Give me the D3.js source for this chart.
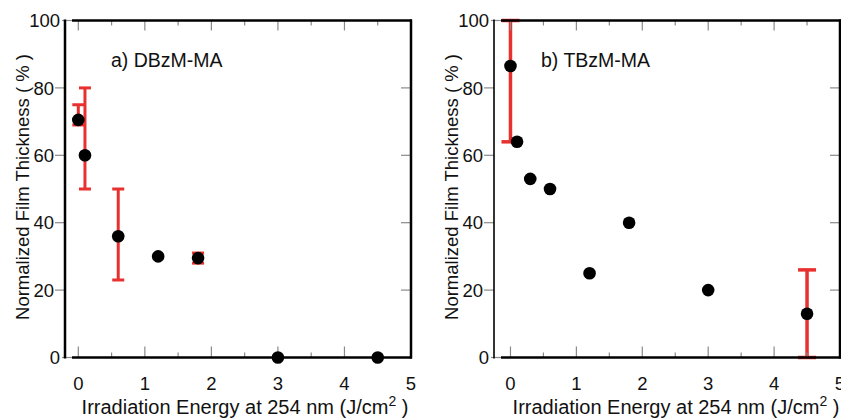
<!DOCTYPE html>
<html>
<head>
<meta charset="utf-8">
<script src="https://cdn.jsdelivr.net/npm/d3@7"></script>
<style>
  html, body { margin: 0; padding: 0; background: #fff; }
  svg { display: block; font-family: "Liberation Sans", Arial, Helvetica, sans-serif; }
</style>
</head>
<body>
<svg id="chart" width="841" height="419"></svg>
<script>
// ---- data ----
const xTickValues = [0, 1, 2, 3, 4, 5];
const xMinorValues = [0.5, 1.5, 2.5, 3.5, 4.5];
const yTickValues = [0, 20, 40, 60, 80, 100];

const energyA = [0, 0.1, 0.6, 1.2, 1.8, 3, 4.5];
const thicknessA = [70.5, 60, 36, 30, 29.5, 0, 0];
const errLowA = [69, 50, 23, null, 28, null, null];
const errHighA = [75, 80, 50, null, 31, null, null];

const energyB = [0, 0.1, 0.3, 0.6, 1.2, 1.8, 3, 4.5];
const thicknessB = [86.5, 64, 53, 50, 25, 40, 20, 13];
const errLowB = [64, null, null, null, null, null, null, 0];
const errHighB = [100, null, null, null, null, null, null, 26];

const panelTitles = ["a) DBzM-MA", "b) TBzM-MA"];
const yLabelText = "Normalized Film Thickness ( % )";

// ---- drawing ----
const svg = d3.select("#chart");
const RED = "#e8302f";
const GRAY = "#8a8a8a";
const TXT = "#111";

function drawPanel(cfg) {
  const x = d3.scaleLinear().domain(cfg.xDomain).range([cfg.left, cfg.right]);
  const y = d3.scaleLinear().domain([0, 100]).range([357.5, 20.5]);
  const g = svg.append("g");
  const x0 = cfg.left, x1 = cfg.right, yTop = y(100), yBot = y(0);

  // error bars
  const eb = cfg.energy.map((e, i) => ({x: e, lo: cfg.lo[i], hi: cfg.hi[i]})).filter(d => d.lo !== null);
  const ebG = g.append("g").attr("stroke", RED).attr("stroke-width", cfg.errWidth).attr("fill", "none");
  eb.forEach(d => {
    ebG.append("line").attr("x1", x(d.x)).attr("x2", x(d.x)).attr("y1", y(d.lo)).attr("y2", y(d.hi));
    [d.lo, d.hi].forEach(v => {
      ebG.append("line").attr("x1", x(d.x) - cfg.cap / 2).attr("x2", x(d.x) + cfg.cap / 2)
        .attr("y1", y(v)).attr("y2", y(v));
    });
  });

  // minor/major ticks on bottom and top (inward)
  const tg = g.append("g").attr("stroke", GRAY).attr("stroke-width", 1.2);
  xTickValues.forEach(v => {
    if (x(v) > x1 - 2) return;
    tg.append("line").attr("x1", x(v)).attr("x2", x(v)).attr("y1", yBot).attr("y2", yBot - 11);
    tg.append("line").attr("x1", x(v)).attr("x2", x(v)).attr("y1", yTop).attr("y2", yTop + 10);
  });
  xMinorValues.forEach(v => {
    tg.append("line").attr("x1", x(v)).attr("x2", x(v)).attr("y1", yBot).attr("y2", yBot - 5);
    tg.append("line").attr("x1", x(v)).attr("x2", x(v)).attr("y1", yTop).attr("y2", yTop + 5);
  });
  // y ticks: left outward, right inward
  yTickValues.forEach(v => {
    const isEnd = (v === 0 || v === 100);
    if (isEnd) {
      tg.append("line").attr("x1", x0 - 3).attr("x2", x0 + 7).attr("y1", y(v)).attr("y2", y(v));
    } else {
      tg.append("line").attr("x1", x0 - 10).attr("x2", x0).attr("y1", y(v)).attr("y2", y(v));
      tg.append("line").attr("x1", x1 - 10).attr("x2", x1).attr("y1", y(v)).attr("y2", y(v));
    }
  });

  // frame
  const fg = g.append("g").attr("stroke", "#000").attr("fill", "none");
  fg.append("line").attr("x1", x0).attr("x2", x0).attr("y1", yTop - 1).attr("y2", yBot + 1).attr("stroke-width", cfg.leftWidth);
  fg.append("line").attr("x1", x0 + 7).attr("x2", x1 + 1).attr("y1", yTop).attr("y2", yTop).attr("stroke-width", 2.5);
  fg.append("line").attr("x1", x0 + 7).attr("x2", x1 + 1).attr("y1", yBot).attr("y2", yBot).attr("stroke-width", 2.5);
  fg.append("line").attr("x1", x1).attr("x2", x1).attr("y1", yTop - 1).attr("y2", yBot + 1).attr("stroke-width", 2.5);

  // markers
  g.append("g").selectAll("circle")
    .data(cfg.energy.map((e, i) => ({x: e, v: cfg.values[i]})))
    .join("circle")
    .attr("cx", d => x(d.x)).attr("cy", d => y(d.v)).attr("r", 6.3).attr("fill", "#000");

  // tick labels
  const lab = g.append("g").attr("font-size", 18.5).attr("fill", TXT);
  xTickValues.forEach(v => {
    lab.append("text").attr("x", x(v)).attr("y", 390).attr("text-anchor", "middle").text(v);
  });
  yTickValues.forEach(v => {
    const isEnd = (v === 0 || v === 100);
    lab.append("text").attr("x", isEnd ? x0 - 5 : x0 - 11).attr("y", y(v)).attr("dy", "0.36em")
      .attr("text-anchor", "end").text(v);
  });

  // axis labels
  const xl = g.append("text").attr("x", cfg.xLabelX).attr("y", 414).attr("font-size", 20)
    .attr("text-anchor", "middle").attr("fill", TXT);
  xl.append("tspan").text("Irradiation Energy at 254 nm (J/cm");
  xl.append("tspan").attr("dy", -8).attr("font-size", 14).text("2");
  xl.append("tspan").attr("dy", 8).text(" )");

  g.append("text").attr("transform", `translate(${cfg.yLabelX},${(yTop + yBot) / 2 - 2}) rotate(-90)`)
    .attr("text-anchor", "middle").attr("font-size", 18.5).attr("fill", TXT).text(yLabelText);

  g.append("text").attr("x", cfg.titleX).attr("y", 67).attr("font-size", 19.5).attr("fill", TXT).text(cfg.title);
}

drawPanel({
  xDomain: [-0.2, 5], left: 65, right: 411,
  energy: energyA, values: thicknessA, lo: errLowA, hi: errHighA,
  cap: 12, errWidth: 3, leftWidth: 2.5,
  xLabelX: 245, yLabelX: 29, titleX: 111, title: panelTitles[0]
});
drawPanel({
  xDomain: [-0.25, 5], left: 494, right: 840,
  energy: energyB, values: thicknessB, lo: errLowB, hi: errHighB,
  cap: 18, errWidth: 3.5, leftWidth: 1.6,
  xLabelX: 676, yLabelX: 458, titleX: 541, title: panelTitles[1]
});
</script>
</body>
</html>
